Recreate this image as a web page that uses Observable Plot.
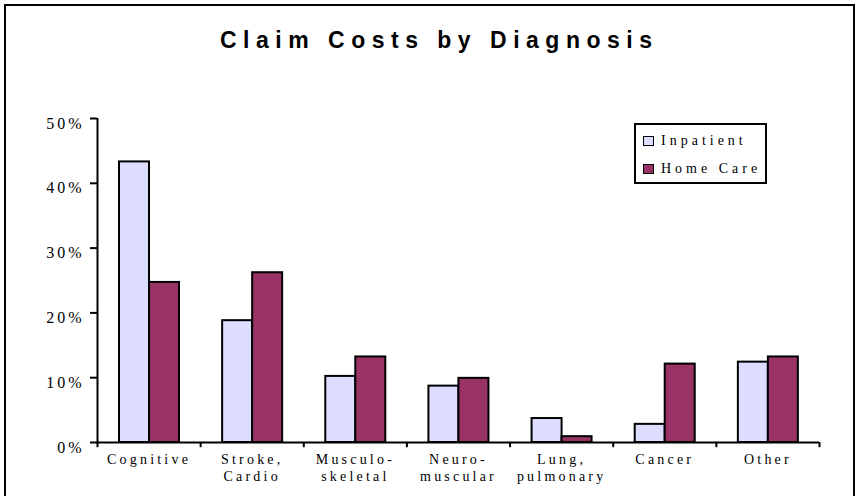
<!DOCTYPE html>
<html>
<head>
<meta charset="utf-8">
<script src="https://cdn.jsdelivr.net/npm/d3@7"></script>
<script src="https://cdn.jsdelivr.net/npm/@observablehq/plot@0.6"></script>
<style>
  html, body { margin: 0; padding: 0; background: #fff; }
  #wrap { position: relative; width: 859px; height: 496px; overflow: hidden; background: #fff; }
  #frame { position: absolute; left: 4px; top: 4px; width: 851px; height: 600px; box-sizing: border-box; border: 2px solid #000; pointer-events: none; }
  #title { position: absolute; left: 220px; top: 29px; font-family: "Liberation Sans", Arial, sans-serif; font-weight: bold; font-size: 23px; line-height: 23px; letter-spacing: 6.5px; white-space: nowrap; color: #000; }
  #chart { position: absolute; left: 0; top: 100px; }
  #legend { position: absolute; left: 634px; top: 123px; width: 133px; height: 61px; box-sizing: border-box; border: 2px solid #000; background: #fff; font-family: "Liberation Serif", "Times New Roman", serif; font-size: 14px; letter-spacing: 4px; }
  #legend .row { position: absolute; left: 7px; height: 18px; display: flex; align-items: center; white-space: nowrap; }
  #legend .sw { width: 11px; height: 10px; box-sizing: border-box; border: 1.5px solid #000; margin-right: 7px; }
  g[aria-label="y-axis tick label"] text { letter-spacing: 3px; }
  g[aria-label="x-axis tick label"] text { letter-spacing: 3.2px; }
</style>
</head>
<body>
<div id="wrap">
  <div id="title">Claim Costs by Diagnosis</div>
  <div id="chart"></div>
  <div id="legend"></div>
  <div id="frame"></div>
</div>
<script>
const categories = ["Cognitive", "Stroke, Cardio", "Musculo-skeletal", "Neuro-muscular", "Lung, pulmonary", "Cancer", "Other"];
const tickLabels = ["Cognitive", "Stroke,\nCardio", "Musculo-\nskeletal", "Neuro-\nmuscular", "Lung,\npulmonary", "Cancer", "Other"];
const seriesNames = ["Inpatient", "Home Care"];
const inpatient = [43.3, 18.8, 10.2, 8.7, 3.7, 2.8, 12.4];
const homeCare = [24.7, 26.2, 13.2, 9.9, 0.9, 12.1, 13.2];
const yTicks = [0, 10, 20, 30, 40, 50];
const colors = ["#DDDDFF", "#993366"];

const width = 859, height = 396;
const marginLeft = 97, marginRight = 40, marginTop = 18, marginBottom = 54;
const bw = (width - marginLeft - marginRight) / categories.length;
const gapL = 22, barW = 30;

const inData = categories.map((c, i) => ({category: c, value: inpatient[i]}));
const hcData = categories.map((c, i) => ({category: c, value: homeCare[i]}));

const chart = Plot.plot({
  width, height, marginLeft, marginRight, marginTop, marginBottom,
  style: {fontFamily: '"Liberation Serif", "Times New Roman", serif', color: "#000", background: "#fff"},
  x: {domain: categories, padding: 0, round: false, label: null},
  y: {domain: [0, 50], label: null},
  marks: [
    Plot.barY(inData, {x: "category", y: "value", fill: colors[0], stroke: "#000", strokeWidth: 2,
      insetLeft: gapL, insetRight: bw - gapL - barW}),
    Plot.barY(hcData, {x: "category", y: "value", fill: colors[1], stroke: "#000", strokeWidth: 2,
      insetLeft: gapL + barW, insetRight: bw - gapL - 2 * barW}),
    Plot.ruleY([0], {stroke: "#000", strokeWidth: 2}),
    Plot.ruleX([categories[0]], {x: d => d, dx: -bw / 2, y1: 0, y2: 50, stroke: "#000", strokeWidth: 2}),
    Plot.ruleX(categories, {x: d => d, dx: -bw / 2, y1: 0, y2: -0.8, stroke: "#000", strokeWidth: 2}),
    Plot.ruleX([categories[categories.length - 1]], {x: d => d, dx: bw / 2, y1: 0, y2: -0.8, stroke: "#000", strokeWidth: 2}),
    Plot.axisY({ticks: yTicks, tickFormat: () => "", tickSize: 7, strokeWidth: 2, label: null}),
    Plot.axisY({ticks: yTicks, tickFormat: d => d + "%", tickSize: 0, tickPadding: 13, fontSize: 16, dy: 5, label: null}),
    Plot.axisX({tickSize: 0, tickPadding: 9, fontSize: 14, lineHeight: 1.25, label: null,
      tickFormat: d => tickLabels[categories.indexOf(d)]})
  ]
});
document.getElementById("chart").appendChild(chart);

const legend = document.getElementById("legend");
seriesNames.forEach((name, i) => {
  const row = document.createElement("div");
  row.className = "row";
  row.style.top = (6.5 + i * 28.5) + "px";
  const sw = document.createElement("div");
  sw.className = "sw";
  sw.style.background = colors[i];
  const t = document.createElement("span");
  t.textContent = name;
  row.appendChild(sw);
  row.appendChild(t);
  legend.appendChild(row);
});
</script>
</body>
</html>
